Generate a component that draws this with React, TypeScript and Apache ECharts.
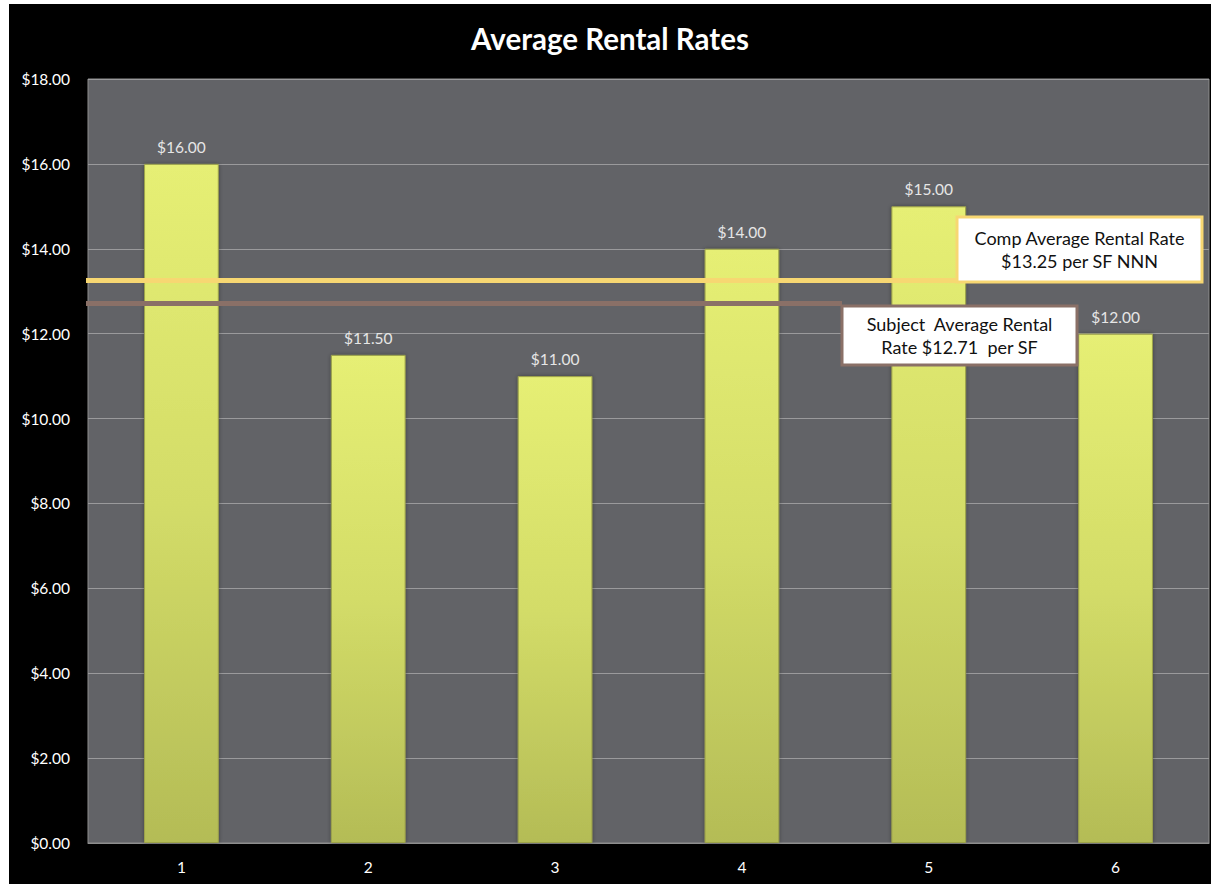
import React, { useEffect, useRef } from "react";
import * as echarts from "echarts";

const categories = ["1", "2", "3", "4", "5", "6"];
const rentalRates = [16.0, 11.5, 11.0, 14.0, 15.0, 12.0];
const compAverage = 13.25;
const subjectAverage = 12.71;
const compLabel = ["Comp Average Rental Rate", "$13.25 per SF NNN"];
const subjectLabel = ["Subject  Average Rental", "Rate $12.71  per SF"];
const yMin = 0;
const yMax = 18;
const yInterval = 2;

const FONT = "Lato, 'Open Sans', sans-serif";

export default function App() {
  const ref = useRef<HTMLDivElement>(null);
  useEffect(() => {
    if (!ref.current) return;
    const chart = echarts.init(ref.current, null, { renderer: "svg" });
    chart.setOption({
      animation: false,
      backgroundColor: "#000000",
      title: {
        text: "Average Rental Rates",
        left: "center",
        top: 14,
        textStyle: { color: "#ffffff", fontSize: 29.5, fontWeight: "bold", fontFamily: FONT },
      },
      grid: {
        left: 79,
        right: 2,
        top: 75,
        bottom: 41,
        show: true,
        backgroundColor: "#626367",
        borderColor: "#8e8e8e",
        borderWidth: 1,
      },
      xAxis: {
        type: "category",
        data: categories,
        axisLine: { show: true, lineStyle: { color: "#8e8e8e", width: 1 } },
        axisTick: { show: false },
        axisLabel: { color: "#ffffff", fontSize: 15.5, fontFamily: FONT, margin: 16 },
      },
      yAxis: {
        type: "value",
        min: yMin,
        max: yMax,
        interval: yInterval,
        axisLine: { show: false },
        axisTick: { show: false },
        splitLine: { show: true, lineStyle: { color: "#9a9a9c", width: 1 } },
        axisLabel: {
          color: "#ffffff",
          fontSize: 15.5,
          fontFamily: FONT,
          margin: 18,
          formatter: (v: number) => "$" + v.toFixed(2),
        },
      },
      series: [
        {
          type: "bar",
          data: rentalRates,
          barWidth: "40%",
          itemStyle: {
            color: new echarts.graphic.LinearGradient(0, 0, 0, 1, [
              { offset: 0, color: "#e6ef74" },
              { offset: 0.5, color: "#d3dc68" },
              { offset: 1, color: "#b4bc56" },
            ]),
            borderColor: "#9da34a",
            borderWidth: 1,
            shadowColor: "rgba(0,0,0,0.35)",
            shadowBlur: 4,
          },
          label: {
            show: true,
            position: "top",
            distance: 9,
            color: "#e6e6e6",
            fontSize: 15.5,
            fontFamily: FONT,
            formatter: (p: any) => "$" + Number(p.value).toFixed(2),
          },
        },
      ],
    });

    const compPt = chart.convertToPixel({ gridIndex: 0 }, [0, compAverage]) as number[];
    const subjPt = chart.convertToPixel({ gridIndex: 0 }, [0, subjectAverage]) as number[];
    const lineStart = 77;
    const compBox = { x: 948, y: 213, w: 245, h: 65 };
    const subjBox = { x: 833, y: 302, w: 235, h: 59 };

    chart.setOption({
      graphic: [
        {
          type: "line",
          shape: { x1: lineStart, y1: compPt[1], x2: compBox.x, y2: compPt[1] },
          style: { stroke: "#f7d772", lineWidth: 5 },
          z: 100,
        },
        {
          type: "line",
          shape: { x1: lineStart, y1: subjPt[1], x2: subjBox.x, y2: subjPt[1] },
          style: { stroke: "#8a7067", lineWidth: 5 },
          z: 100,
        },
        {
          type: "rect",
          shape: { x: compBox.x, y: compBox.y, width: compBox.w, height: compBox.h },
          style: { fill: "#ffffff", stroke: "#f7d772", lineWidth: 3 },
          z: 101,
        },
        {
          type: "text",
          x: compBox.x + compBox.w / 2,
          y: compBox.y + compBox.h / 2,
          style: {
            text: compLabel.join("\n"),
            fill: "#111111",
            fontSize: 18,
            fontFamily: FONT,
            align: "center",
            verticalAlign: "middle",
            lineHeight: 23,
          },
          z: 102,
        },
        {
          type: "rect",
          shape: { x: subjBox.x, y: subjBox.y, width: subjBox.w, height: subjBox.h },
          style: { fill: "#ffffff", stroke: "#8a7067", lineWidth: 3 },
          z: 101,
        },
        {
          type: "text",
          x: subjBox.x + subjBox.w / 2,
          y: subjBox.y + subjBox.h / 2,
          style: {
            text: subjectLabel.join("\n"),
            fill: "#111111",
            fontSize: 18,
            fontFamily: FONT,
            align: "center",
            verticalAlign: "middle",
            lineHeight: 23,
          },
          z: 102,
        },
      ],
    });

    return () => chart.dispose();
  }, []);

  return (
    <div
      ref={ref}
      style={{ position: "fixed", left: 9, top: 4, width: 1202, height: 880 }}
    />
  );
}
